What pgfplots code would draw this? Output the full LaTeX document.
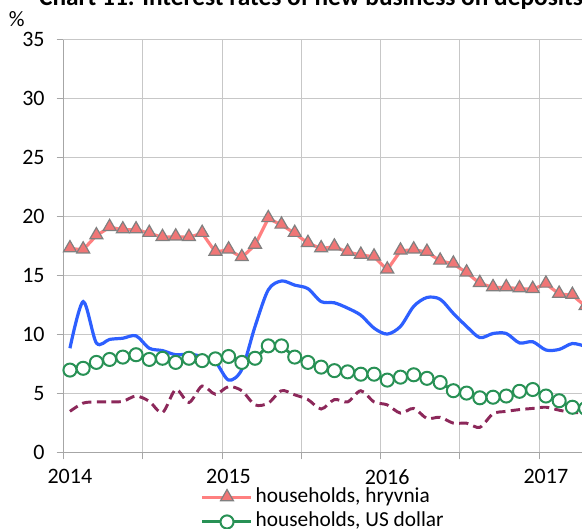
\documentclass[border=0pt]{standalone}
\usepackage{fontspec}
\setmainfont{Carlito}
\usepackage{pgfplots}
\pgfplotsset{compat=1.18}
\definecolor{hry}{RGB}{255,128,128}
\definecolor{hryfill}{RGB}{240,118,118}
\definecolor{usd}{RGB}{40,145,85}
\definecolor{cor}{RGB}{45,95,255}
\definecolor{cusd}{RGB}{140,40,90}
\begin{document}
\begin{tikzpicture}
\path[use as bounding box, clip] (-47.5pt,-57.2pt) rectangle (389pt,339.5pt);
\begin{axis}[
 width=416.5pt, height=309.75pt, scale only axis,
 xmin=0, xmax=42, ymin=0, ymax=35,
 xtick={0,6,...,42}, xticklabels={2014,,2015,,2016,,2017,},
 ytick={0,5,...,35},
 grid=major, major grid style={draw=black!22, line width=0.75pt},
 axis lines=left,
 axis line style={-, draw=black!35, line width=0.75pt},
 tick align=outside, major tick length=5pt,
 tick style={draw=black!35, line width=0.75pt},
 tick label style={font=\fontsize{16.5}{19}\selectfont},
 /pgf/number format/assume math mode=true,
 xticklabel style={xshift=4.9pt, yshift=-4pt},
 yticklabel style={xshift=-5.5pt},
 legend style={draw=none, fill=none, at={(axis description cs:0.24,-0.072)}, anchor=north west,
   font=\fontsize{16}{18}\selectfont, row sep=0pt,
   nodes={inner ysep=0pt, text height=12.5pt, text depth=5.8pt}},
 legend cell align=left,
 legend image code/.code={\draw[mark repeat=2,mark phase=2,#1] plot coordinates {(0pt,0pt)(18.4pt,0pt)(36.75pt,0pt)};},
]
\addplot[color=hry, line width=2.4pt, mark=triangle*, mark size=5.6pt,
  mark options={solid, fill=hryfill, draw=black!50, line width=0.9pt, yshift=0.4pt}]
coordinates {(0.5,17.3)(1.5,17.2)(2.5,18.4)(3.5,19.1)(4.5,18.9)(5.5,18.9)(6.5,18.6)(7.5,18.25)(8.5,18.3)(9.5,18.25)(10.5,18.6)(11.5,17.0)(12.5,17.2)(13.5,16.55)(14.5,17.6)(15.5,19.85)(16.5,19.3)(17.5,18.6)(18.5,17.75)(19.5,17.3)(20.5,17.45)(21.5,17.0)(22.5,16.75)(23.5,16.6)(24.5,15.5)(25.5,17.1)(26.5,17.2)(27.5,17.0)(28.5,16.25)(29.5,16.0)(30.5,15.25)(31.5,14.35)(32.5,14.0)(33.5,14.0)(34.5,13.9)(35.5,13.85)(36.5,14.3)(37.5,13.45)(38.5,13.35)(39.5,12.4)};
\addlegendentry{households, hryvnia}
\addplot[color=usd, line width=2.2pt, mark=*, mark size=4.9pt,
  mark options={solid, fill=white, draw=usd, line width=1.5pt}]
coordinates {(0.5,7.0)(1.5,7.15)(2.5,7.65)(3.5,7.9)(4.5,8.1)(5.5,8.3)(6.5,7.9)(7.5,8.0)(8.5,7.65)(9.5,8.0)(10.5,7.8)(11.5,7.95)(12.5,8.15)(13.5,7.65)(14.5,8.0)(15.5,9.05)(16.5,9.05)(17.5,8.1)(18.5,7.65)(19.5,7.25)(20.5,6.95)(21.5,6.85)(22.5,6.65)(23.5,6.65)(24.5,6.15)(25.5,6.4)(26.5,6.6)(27.5,6.3)(28.5,5.95)(29.5,5.25)(30.5,5.05)(31.5,4.65)(32.5,4.7)(33.5,4.8)(34.5,5.2)(35.5,5.35)(36.5,4.8)(37.5,4.4)(38.5,3.85)(39.5,3.75)};
\addlegendentry{households, US dollar}
\addplot[color=cor, line width=2.4pt, smooth, tension=0.5, mark=none]
coordinates {(0.5,8.85)(1.5,12.8)(2.5,9.3)(3.5,9.6)(4.5,9.7)(5.5,9.9)(6.5,8.85)(7.5,8.65)(8.5,8.3)(9.5,8.35)(10.5,8.15)(11.5,7.7)(12.5,6.15)(13.5,7.05)(14.5,10.7)(15.5,13.8)(16.5,14.55)(17.5,14.2)(18.5,13.9)(19.5,12.8)(20.5,12.7)(21.5,12.25)(22.5,11.65)(23.5,10.55)(24.5,10.05)(25.5,10.7)(26.5,12.4)(27.5,13.15)(28.5,13.0)(29.5,11.8)(30.5,10.7)(31.5,9.75)(32.5,10.1)(33.5,10.1)(34.5,9.3)(35.5,9.4)(36.5,8.7)(37.5,8.75)(38.5,9.25)(39.5,9.0)};
\addlegendentry{corporations, hryvnia}
\addplot[color=cusd, line width=2.2pt, dash pattern=on 7pt off 4pt, smooth, tension=0.5, mark=none]
coordinates {(0.5,3.5)(1.5,4.2)(2.5,4.3)(3.5,4.3)(4.5,4.35)(5.5,4.8)(6.5,4.35)(7.5,3.4)(8.5,5.35)(9.5,4.25)(10.5,5.65)(11.5,4.95)(12.5,5.6)(13.5,5.25)(14.5,4.05)(15.5,4.2)(16.5,5.25)(17.5,4.9)(18.5,4.5)(19.5,3.7)(20.5,4.5)(21.5,4.3)(22.5,5.25)(23.5,4.3)(24.5,4.05)(25.5,3.35)(26.5,3.75)(27.5,2.9)(28.5,3.0)(29.5,2.5)(30.5,2.5)(31.5,2.15)(32.5,3.3)(33.5,3.5)(34.5,3.65)(35.5,3.75)(36.5,3.85)(37.5,3.6)(38.5,3.4)(39.5,3.4)};
\addlegendentry{corporations, US dollar}
\end{axis}
\node[anchor=base, font=\bfseries\fontsize{19}{22}\selectfont] at (185.8pt,335.2pt) {Chart 11. Interest rates of new business on deposits};
\node[font=\fontsize{16.5}{19}\selectfont] at (-35pt,325pt) {\%};
\end{tikzpicture}
\end{document}
